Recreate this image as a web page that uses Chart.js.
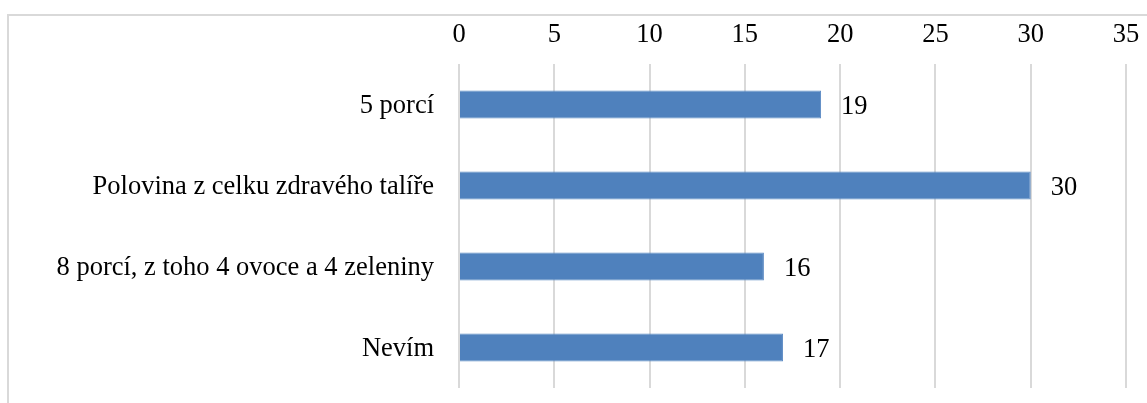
<!DOCTYPE html>
<html>
<head>
<meta charset="utf-8">
<script src="https://cdn.jsdelivr.net/npm/chart.js@4/dist/chart.umd.min.js"></script>
<style>
html,body{margin:0;padding:0;background:#fff;}
#wrap{position:relative;width:1147px;height:403px;}
</style>
</head>
<body>
<div id="wrap"><canvas id="c" width="1147" height="403"></canvas></div>
<script>
const categories = ["5 porcí", "Polovina z celku zdravého talíře", "8 porcí, z toho 4 ovoce a 4 zeleniny", "Nevím"];
const values = [19, 30, 16, 17];
const axisMin = 0, axisMax = 35, axisStep = 5;

const FONT = "'Liberation Serif', 'Times New Roman', serif";
const FS = 26.5;

const framePlugin = {
  id: 'frame',
  beforeDraw(chart) {
    const ctx = chart.ctx;
    ctx.save();
    ctx.fillStyle = '#fff';
    ctx.fillRect(0, 0, chart.width, chart.height);
    ctx.strokeStyle = '#d9d9d9';
    ctx.lineWidth = 2;
    ctx.strokeRect(8, 15, chart.width + 20, chart.height + 20);
    ctx.restore();
  }
};

const labelPlugin = {
  id: 'barLabels',
  afterDatasetsDraw(chart) {
    const ctx = chart.ctx;
    const meta = chart.getDatasetMeta(0);
    ctx.save();
    ctx.font = FS + 'px ' + FONT;
    ctx.fillStyle = '#000';
    ctx.textAlign = 'left';
    ctx.textBaseline = 'middle';
    meta.data.forEach((bar, i) => {
      ctx.fillText(String(values[i]), bar.x + 20, bar.y + 3);
    });
    ctx.restore();
  }
};

new Chart(document.getElementById('c'), {
  type: 'bar',
  data: {
    labels: categories,
    datasets: [{
      data: values,
      backgroundColor: '#4f81bd',
      borderColor: '#5b8ac4',
      borderWidth: 1,
      categoryPercentage: 1,
      barPercentage: 0.345
    }]
  },
  options: {
    indexAxis: 'y',
    responsive: false,
    animation: false,
    devicePixelRatio: 1,
    layout: { padding: { top: 0, left: 0, right: 21, bottom: 15 } },
    plugins: { legend: { display: false }, tooltip: { enabled: false } },
    scales: {
      x: {
        position: 'top',
        min: axisMin, max: axisMax,
        ticks: { stepSize: axisStep, padding: 13, color: '#000', font: { family: FONT, size: FS } },
        grid: { color: '#d9d9d9', lineWidth: 2, drawTicks: false },
        border: { display: false },
        afterFit(s) { s.height = 64; s.paddingLeft = 0; s.paddingRight = 0; }
      },
      y: {
        ticks: { padding: 25, labelOffset: 2, color: '#000', font: { family: FONT, size: FS } },
        grid: { display: false, drawTicks: false },
        border: { display: false },
        afterFit(s) { s.width = 459; s.paddingTop = 0; s.paddingBottom = 0; }
      }
    }
  },
  plugins: [framePlugin, labelPlugin]
});
</script>
</body>
</html>
